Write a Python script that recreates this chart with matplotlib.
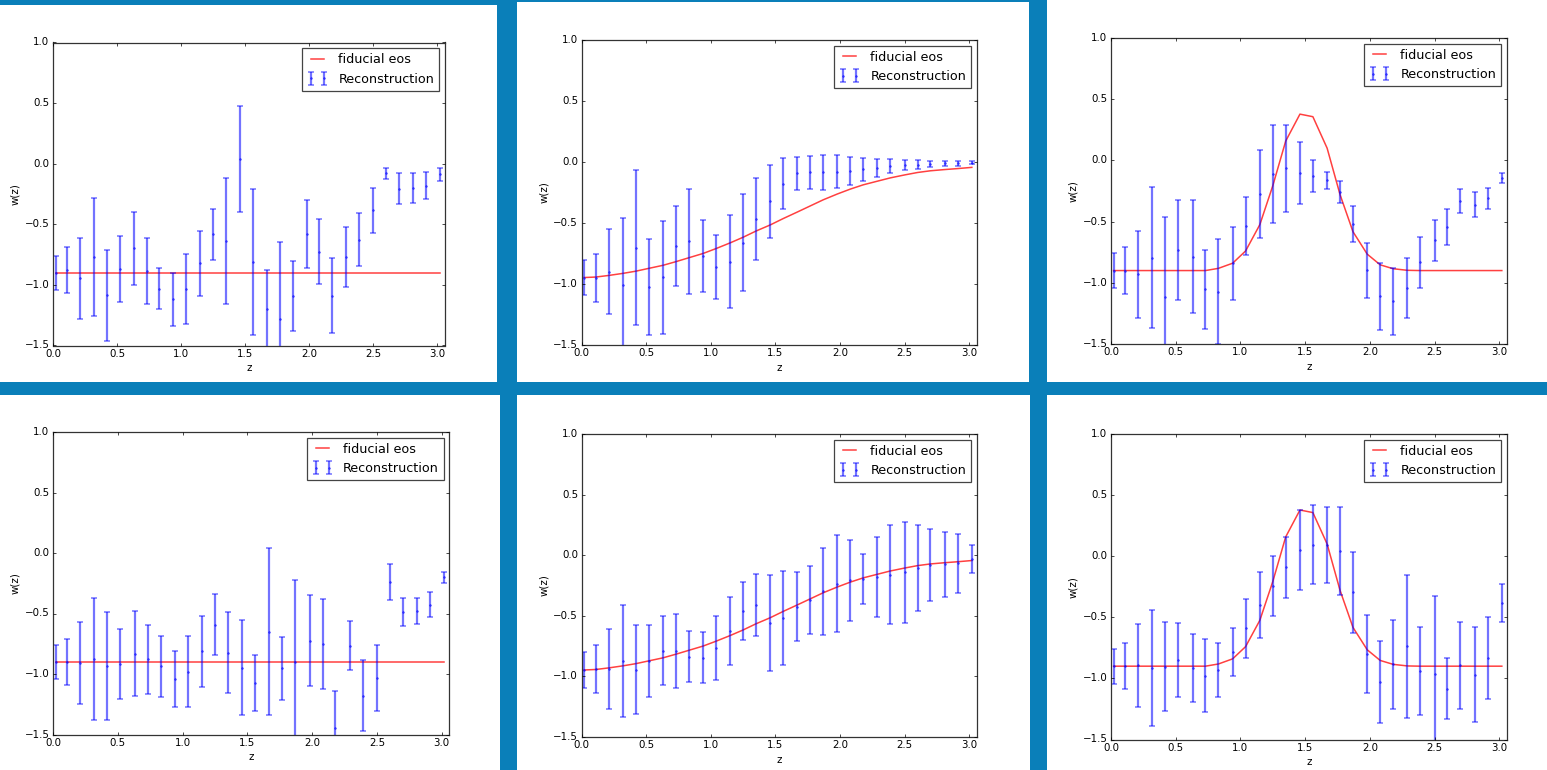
import matplotlib

matplotlib.use("Agg")
import matplotlib.pyplot as plt
from matplotlib.patches import Rectangle

plt.style.use("classic")

# redshift bins shared by all six panels
z = [0.02, 0.11, 0.21, 0.32, 0.42, 0.52, 0.63, 0.73, 0.83, 0.94,
     1.04, 1.15, 1.25, 1.35, 1.46, 1.56, 1.67, 1.77, 1.87, 1.98,
     2.08, 2.18, 2.29, 2.39, 2.50, 2.60, 2.70, 2.81, 2.91, 3.02]

# fiducial equations of state
fid_flat = [-0.90] * 30
fid_cpl = [-0.947, -0.943, -0.930, -0.913, -0.895, -0.872, -0.847, -0.817, -0.785, -0.750,
           -0.710, -0.663, -0.617, -0.566, -0.516, -0.464, -0.410, -0.360, -0.310, -0.262,
           -0.222, -0.187, -0.157, -0.130, -0.106, -0.086, -0.072, -0.062, -0.054, -0.044]
fid_bump = [-0.900, -0.900, -0.900, -0.900, -0.900, -0.900, -0.900, -0.900, -0.882, -0.840,
            -0.740, -0.525, -0.208, 0.158, 0.378, 0.357, 0.100, -0.280, -0.583, -0.766,
            -0.853, -0.885, -0.898, -0.900, -0.900, -0.900, -0.900, -0.900, -0.900, -0.900]

# reconstructions (mean, 1 sigma) -- top row
w1 = [-0.900, -0.880, -0.947, -0.768, -1.087, -0.869, -0.699, -0.885, -1.030, -1.120,
      -1.033, -0.822, -0.583, -0.640, 0.037, -0.810, -1.195, -1.283, -1.090, -0.578,
      -0.725, -1.090, -0.771, -0.627, -0.383, -0.080, -0.205, -0.200, -0.181, -0.086]
e1 = [0.140, 0.190, 0.336, 0.485, 0.379, 0.270, 0.300, 0.275, 0.170, 0.215,
      0.287, 0.268, 0.210, 0.520, 0.438, 0.600, 0.320, 0.640, 0.290, 0.280,
      0.266, 0.310, 0.245, 0.220, 0.185, 0.047, 0.126, 0.124, 0.110, 0.054]

w2 = [-0.948, -0.950, -0.898, -1.011, -0.702, -1.028, -0.944, -0.689, -0.651, -0.772,
      -0.861, -0.818, -0.661, -0.467, -0.321, -0.177, -0.094, -0.086, -0.086, -0.079,
      -0.071, -0.061, -0.048, -0.033, -0.026, -0.021, -0.015, -0.012, -0.012, -0.005]
e2 = [0.142, 0.198, 0.345, 0.552, 0.634, 0.393, 0.463, 0.330, 0.430, 0.295,
      0.265, 0.380, 0.400, 0.339, 0.300, 0.208, 0.138, 0.135, 0.141, 0.135,
      0.116, 0.097, 0.075, 0.055, 0.042, 0.034, 0.023, 0.020, 0.020, 0.012]

w3 = [-0.900, -0.900, -0.931, -0.796, -1.116, -0.734, -0.786, -1.054, -1.072, -0.842,
      -0.532, -0.275, -0.108, -0.066, -0.102, -0.127, -0.162, -0.257, -0.520, -0.898,
      -1.111, -1.151, -1.044, -0.834, -0.654, -0.548, -0.333, -0.363, -0.310, -0.143]
e3 = [0.142, 0.190, 0.356, 0.575, 0.657, 0.410, 0.460, 0.324, 0.428, 0.297,
      0.237, 0.361, 0.400, 0.352, 0.256, 0.133, 0.070, 0.087, 0.144, 0.227,
      0.274, 0.275, 0.247, 0.210, 0.169, 0.147, 0.098, 0.102, 0.087, 0.041]

# bottom row
w4 = [-0.903, -0.898, -0.910, -0.875, -0.936, -0.915, -0.832, -0.879, -0.938, -1.040,
      -0.982, -0.814, -0.591, -0.823, -0.948, -1.073, -0.650, -0.953, -0.900, -0.726,
      -0.752, -1.446, -0.767, -1.179, -1.031, -0.240, -0.487, -0.478, -0.428, -0.200]
e4 = [0.140, 0.190, 0.342, 0.507, 0.446, 0.290, 0.353, 0.287, 0.255, 0.234,
      0.292, 0.290, 0.250, 0.335, 0.394, 0.230, 0.690, 0.259, 0.674, 0.375,
      0.375, 0.306, 0.204, 0.295, 0.274, 0.146, 0.114, 0.110, 0.103, 0.044]

w5 = [-0.948, -0.937, -0.940, -0.874, -0.945, -0.875, -0.788, -0.790, -0.839, -0.845,
      -0.767, -0.629, -0.460, -0.409, -0.558, -0.518, -0.424, -0.371, -0.298, -0.235,
      -0.207, -0.196, -0.180, -0.160, -0.140, -0.106, -0.082, -0.075, -0.067, -0.032]
e5 = [0.146, 0.196, 0.330, 0.461, 0.366, 0.295, 0.286, 0.305, 0.210, 0.210,
      0.265, 0.280, 0.238, 0.255, 0.396, 0.390, 0.284, 0.278, 0.358, 0.400,
      0.334, 0.207, 0.332, 0.410, 0.416, 0.353, 0.295, 0.268, 0.245, 0.113]

w6 = [-0.900, -0.900, -0.893, -0.914, -0.903, -0.852, -0.916, -0.978, -0.932, -0.784,
      -0.590, -0.403, -0.246, -0.089, 0.047, 0.095, 0.091, 0.039, -0.297, -0.803,
      -1.028, -0.886, -0.738, -0.938, -0.963, -1.086, -0.892, -0.970, -0.831, -0.383]
e6 = [0.142, 0.190, 0.341, 0.475, 0.366, 0.304, 0.280, 0.300, 0.224, 0.194,
      0.243, 0.270, 0.245, 0.250, 0.327, 0.325, 0.311, 0.360, 0.331, 0.320,
      0.334, 0.365, 0.586, 0.360, 0.641, 0.250, 0.357, 0.390, 0.334, 0.154]

W, H = 1547, 770
BLUE = "#0a7fb9"

# pixel boxes (left, top, right, bottom): white tiles and the axes inside them
tiles = [(0, 5, 497, 382), (517, 2, 1029, 382), (1047, 0, 1547, 382),
         (0, 395, 500, 770), (517, 395, 1030, 770), (1047, 395, 1547, 770)]
axes_px = [(53, 42.5, 445, 345.5), (581.5, 40, 977, 345), (1111, 38, 1507, 344),
           (53, 432, 449.5, 734.5), (581.5, 434, 977, 737), (1111, 434, 1507, 739.5)]

panels = [(fid_flat, w1, e1), (fid_cpl, w2, e2), (fid_bump, w3, e3),
          (fid_flat, w4, e4), (fid_cpl, w5, e5), (fid_bump, w6, e6)]


def frac(box):
    l, t, r, b = box
    return [l / W, 1 - b / H, (r - l) / W, (b - t) / H]


fig = plt.figure(figsize=(W / 100, H / 100), dpi=100, facecolor=BLUE)
for box in tiles:
    x, y, w, h = frac(box)
    fig.add_artist(Rectangle((x, y), w, h, transform=fig.transFigure,
                             facecolor="white", edgecolor="none", zorder=0))

for box, (fid, w, e) in zip(axes_px, panels):
    ax = fig.add_axes(frac(box))
    ax.plot(z, fid, color="r", alpha=0.75, lw=1.1, label="fiducial eos")
    ax.errorbar(z, w, yerr=e, fmt=".", color="b", ecolor="b", alpha=0.55,
                capsize=2.2, ms=2.5, elinewidth=1.6, capthick=1.1,
                label="Reconstruction")
    ax.set_xlim(0, 3.06)
    ax.set_ylim(-1.5, 1.0)
    ax.set_xticks([0.0, 0.5, 1.0, 1.5, 2.0, 2.5, 3.0])
    ax.set_yticks([-1.5, -1.0, -0.5, 0.0, 0.5, 1.0])
    ax.tick_params(labelsize=7.4, size=2.2, pad=2.5, direction="in")
    ax.tick_params(which="minor", size=0)
    for s in ax.spines.values():
        s.set_linewidth(0.9)
        s.set_edgecolor("#333333")
    ax.set_xlabel("z", fontsize=7.4, labelpad=3)
    ax.set_ylabel("w(z)", fontsize=7.4, labelpad=3)
    leg = ax.legend(loc="upper right", fontsize=9.2, numpoints=2,
                    handlelength=1.6, borderaxespad=0.45)
    leg.get_frame().set_edgecolor("#444444")
    leg.get_frame().set_linewidth(0.9)

fig.savefig("out.png", dpi=100, facecolor=BLUE)
